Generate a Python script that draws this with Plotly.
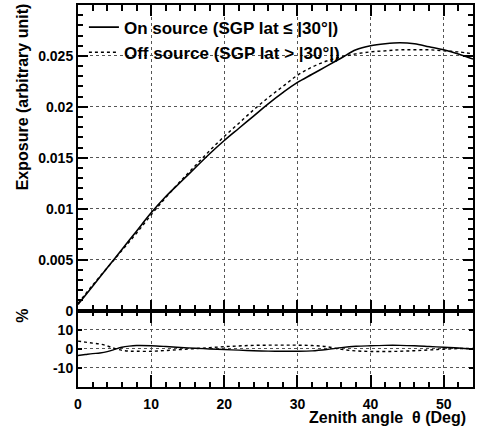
import plotly.graph_objects as go

# ---- data ----
theta = [0, 2, 4, 6, 8, 10, 12, 14, 16, 18, 20, 22, 24, 26, 28, 30,
         32, 34, 36, 38, 40, 42, 44, 46, 48, 50, 52, 54]
exposure_on = [0.0006, 0.0024, 0.0042, 0.0060, 0.0078, 0.0096, 0.0112, 0.0126,
               0.0140, 0.0154, 0.0167, 0.0179, 0.0191, 0.0203, 0.0214, 0.0224,
               0.0232, 0.0240, 0.0248, 0.0256, 0.0260, 0.0262, 0.0263, 0.0262,
               0.0259, 0.0256, 0.0252, 0.0247]
exposure_off = [0.0007, 0.0025, 0.0042, 0.0059, 0.0076, 0.0094, 0.0111, 0.0127,
                0.0142, 0.0157, 0.0171, 0.0184, 0.0197, 0.0209, 0.0220, 0.0231,
                0.0239, 0.0245, 0.0249, 0.0252, 0.0254, 0.0255, 0.0256, 0.0256,
                0.0256, 0.0255, 0.0254, 0.0252]

theta_ratio = [0, 1, 2, 3, 4, 5, 6, 7, 8, 10, 12, 14, 16, 18, 20, 22, 24, 26,
               28, 30, 32, 34, 36, 38, 40, 42, 44, 46, 48, 50, 52, 54]
ratio_on = [-3.5, -3.0, -2.5, -2.2, -1.5, -0.3, 0.8, 1.4, 1.7, 1.6, 1.2, 0.7,
            0.3, -0.1, -0.4, -0.7, -1.0, -1.2, -1.3, -1.3, -1.1, -0.4, 0.6,
            1.3, 1.6, 1.8, 1.8, 1.6, 1.2, 0.8, 0.4, -0.2]
ratio_off = [4.0, 3.5, 3.0, 2.5, 1.5, 0.2, -0.8, -1.2, -1.3, -1.3, -0.9, -0.4,
             0.1, 0.6, 1.1, 1.5, 1.8, 1.9, 1.9, 1.9, 1.7, 1.1, -0.3, -1.1,
             -1.4, -1.4, -1.3, -1.0, -0.6, -0.2, 0.1, 0.2]

x_range = [0, 54]
y_top_range = [0, 0.03]
y_bot_range = [-20, 20]
x_ticks = [0, 10, 20, 30, 40, 50]
x_tick_labels = ["0", "10", "20", "30", "40", "50"]
y_top_ticks = [0, 0.005, 0.01, 0.015, 0.02, 0.025, 0.03]
y_top_labels = ["0", "0.005", "0.01", "0.015", "0.02", "0.025", "0.03"]
y_bot_ticks = [-10, 0, 10]
y_bot_labels = ["-10", "0", "10"]

name_on = "<b>On source (SGP lat \u2264 |30\u00b0|)</b>"
name_off = "<b>Off source (SGP lat > |30\u00b0|)</b>"

FONT = "Liberation Sans, Arial, sans-serif"


def bold(labels):
    return ["<b>%s</b>" % s for s in labels]


fig = go.Figure()
fig.add_trace(go.Scatter(x=theta, y=exposure_on, mode="lines", name=name_on,
                         line=dict(color="black", width=1.6, shape="spline"),
                         xaxis="x", yaxis="y", legendgroup="a"))
fig.add_trace(go.Scatter(x=theta, y=exposure_off, mode="lines", name=name_off,
                         line=dict(color="black", width=1.4, dash="dot", shape="spline"),
                         xaxis="x", yaxis="y", legendgroup="b"))
fig.add_trace(go.Scatter(x=theta_ratio, y=ratio_on, mode="lines", showlegend=False,
                         line=dict(color="black", width=1.4, shape="spline"),
                         xaxis="x2", yaxis="y2"))
fig.add_trace(go.Scatter(x=theta_ratio, y=ratio_off, mode="lines", showlegend=False,
                         line=dict(color="black", width=1.4, dash="dot", shape="spline"),
                         xaxis="x2", yaxis="y2"))

tickfont = dict(family=FONT, size=14, color="black")
common = dict(showline=True, linecolor="black", linewidth=2, mirror="allticks",
              ticks="inside", tickcolor="black", tickwidth=2,
              showgrid=True, gridcolor="#555", griddash="dot",
              gridwidth=1, zeroline=False, tickfont=tickfont)

fig.update_layout(
    width=478, height=437,
    margin=dict(l=78, r=3, t=3, b=50),
    paper_bgcolor="white", plot_bgcolor="white",
    font=dict(family=FONT, size=16, color="black"),
    xaxis=dict(domain=[0, 1], range=x_range, anchor="y", tickvals=x_ticks,
               showticklabels=False, ticklen=11,
               minor=dict(ticks="inside", ticklen=6, dtick=2, tick0=0,
                          tickcolor="black", tickwidth=2, showgrid=False),
               **common),
    yaxis=dict(domain=[0.2, 1], range=y_top_range, anchor="x", tickvals=y_top_ticks,
               ticktext=bold(y_top_labels), ticklen=10,
               minor=dict(ticks="inside", ticklen=5, dtick=0.001, tick0=0,
                          tickcolor="black", tickwidth=2, showgrid=False),
               **common),
    xaxis2=dict(domain=[0, 1], range=x_range, anchor="y2", tickvals=x_ticks,
                ticktext=bold(x_tick_labels), ticklen=12, ticklabelstandoff=3,
                minor=dict(ticks="inside", ticklen=5, dtick=2, tick0=0,
                           tickcolor="black", tickwidth=2, showgrid=False),
                **common),
    yaxis2=dict(domain=[0, 0.2], range=y_bot_range, anchor="x2", tickvals=y_bot_ticks,
                ticktext=bold(y_bot_labels), ticklen=4, **common),
    legend=dict(x=0.015, y=0.988, xanchor="left", yanchor="top",
                bgcolor="rgba(0,0,0,0)", borderwidth=0,
                font=dict(family=FONT, size=17, color="black"),
                traceorder="grouped", tracegroupgap=0),
    showlegend=True,
)

fig.add_annotation(text="<b>Exposure (arbitrary unit)</b>", xref="paper", yref="paper",
                   x=-0.141, xanchor="center", y=0.759, yanchor="middle",
                   textangle=-90, showarrow=False,
                   font=dict(family=FONT, size=16, color="black"))
fig.add_annotation(text="<b>%</b>", xref="paper", yref="paper",
                   x=-0.141, xanchor="center", y=0.1875, yanchor="middle",
                   textangle=-90, showarrow=False,
                   font=dict(family=FONT, size=16, color="black"))
fig.add_annotation(text="<b>Zenith angle  \u03b8 (Deg)</b>", xref="paper", yref="paper",
                   x=0.987, xanchor="right", y=-0.081, yanchor="middle",
                   showarrow=False,
                   font=dict(family=FONT, size=16, color="black"))

fig.write_html("out.html", config={"displayModeBar": False},
               post_script="document.body.style.margin='0px';")
